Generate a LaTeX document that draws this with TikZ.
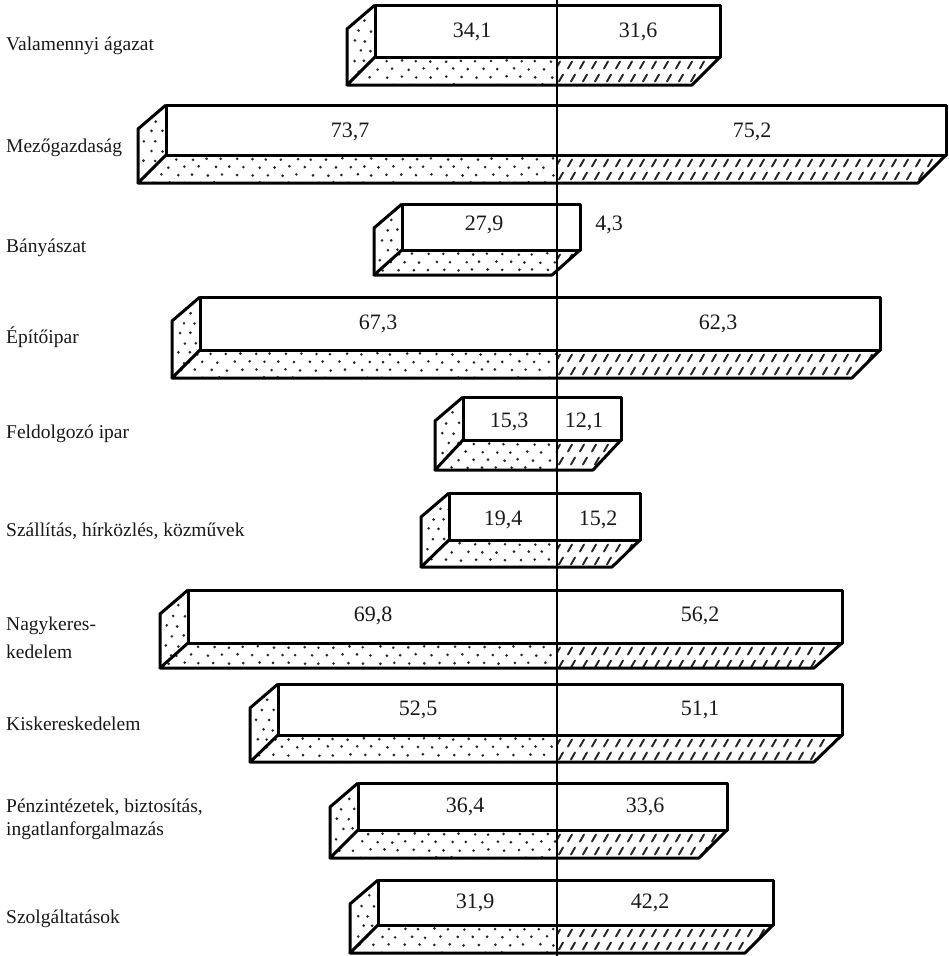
\documentclass[tikz,border=0pt]{standalone}
\usepackage{fontspec}
\setmainfont{Liberation Serif}
\tikzset{
  barline/.style={line width=3pt, line join=round},
  lab/.style={anchor=base west, inner sep=0pt, text=black!90, font=\fontsize{19.5}{23}\selectfont},
  val/.style={anchor=base, inner sep=0pt, text=black!90, font=\fontsize{22}{26}\selectfont},
  stip/.style={fill=black!85},
  hatchdash/.style={line width=1.9pt, line cap=round, black!85},
}
% dots: #1 x0, #2 x1, #3 y0, #4 y1, #5 column spacing, #6 row spacing
\newcommand\stipple[6]{%
  \pgfmathtruncatemacro\nr{((#4)-(#3))/(#6)}%
  \pgfmathtruncatemacro\nc{((#2)-(#1))/(#5)+1}%
  \foreach \j in {0,...,\nr}{%
    \foreach \i in {0,...,\nc}{%
      \fill[stip] ({(#1)+(#5)*\i+0.5*(#5)*mod(\j,2)+1.5*rand},{(#3)+4+(#6)*\j+0.8*rand}) circle (1.45);
    }%
  }%
}
% dashes: #1 x0, #2 x1, #3 y0, #4 y1
\newcommand\hatchfill[4]{%
  \pgfmathtruncatemacro\nr{((#4)-(#3))/14}%
  \pgfmathtruncatemacro\nc{((#2)-(#1))/12+1}%
  \foreach \j in {0,...,\nr}{%
    \foreach \i in {0,...,\nc}{%
      \draw[hatchdash] ({(#1)+12*\i+3*mod(\j,2)},{(#3)+13*\j+11.5}) -- ++(4,-7);
    }%
  }%
}
% #1 xl, #2 xr, #3 top, #4 bottom of front face, #5 lower edge
\newcommand\mkbar[5]{%
  \begin{scope}
    \clip (0,0) rectangle (557,956);
    \clip (#1,#4) -- (#2,#4) -- ({#2-28},#5) -- ({#1-28},#5) -- cycle;
    \stipple{#1-34}{557}{#4}{#5}{15}{8}
  \end{scope}
  \begin{scope}
    \clip (557,0) rectangle (948,956);
    \clip (#1,#4) -- (#2,#4) -- ({#2-28},#5) -- ({#1-28},#5) -- cycle;
    \hatchfill{544}{#2}{#4}{#5}
  \end{scope}
  \begin{scope}
    \clip (#1,#3) -- (#1,#4) -- ({#1-28},#5) -- ({#1-28},{#3+24}) -- cycle;
    \stipple{#1-21}{#1}{#3+12}{#5}{11}{10}
  \end{scope}
  \draw[barline] (#1,#3) rectangle (#2,#4);
  \draw[barline] (#1,#4) -- ({#1-28},#5) -- ({#2-28},#5) -- (#2,#4);
  \draw[barline] (#1,#3) -- ({#1-28},{#3+24}) -- ({#1-28},#5);
}
\begin{document}
\begin{tikzpicture}[x=1pt,y=-1pt]
\pgfmathsetseed{7}
\fill[white] (0,0) rectangle (948,956);
\useasboundingbox (0,0) rectangle (948,956);

\mkbar{375}{720}{5}{57}{85}
\mkbar{166}{946}{105}{155}{183}
\mkbar{402}{580}{204}{250}{275}
\mkbar{200}{880}{297}{350}{378}
\mkbar{463}{621}{397}{440}{470}
\mkbar{449}{640}{493}{540}{567}
\mkbar{188}{842}{590}{643}{668}
\mkbar{278}{842}{684}{735}{762}
\mkbar{358}{727}{783}{830}{858}
\mkbar{378}{773}{880}{925}{953}

\coordinate (ctop) at (557,0);
\coordinate (cbot) at (557,956);
\draw[line width=2.6pt] (ctop) -- (cbot);

% labels
\node[lab] (l1) at (6,50) {Valamennyi ágazat};
\node[lab] (l2) at (6,152) {Mezőgazdaság};
\node[lab] (l3) at (6,252) {Bányászat};
\node[lab] (l4) at (6,343) {Építőipar};
\node[lab] (l5) at (6,438) {Feldolgozó ipar};
\node[lab] (l6) at (6,536) {Szállítás, hírközlés, közművek};
\node[lab] (l7a) at (6,630) {Nagykeres-};
\node[lab] (l7b) at (6,658) {kedelem};
\node[lab] (l8) at (6,730) {Kiskereskedelem};
\node[lab] (l9a) at (6,812) {Pénzintézetek, biztosítás,};
\node[lab] (l9b) at (6,835) {ingatlanforgalmazás};
\node[lab] (l10) at (6,923) {Szolgáltatások};

% values
\node[val] (v1a) at (472,37) {34,1};
\node[val] (v1b) at (638,37) {31,6};
\node[val] (v2a) at (350,137) {73,7};
\node[val] (v2b) at (752,137) {75,2};
\node[val] (v3a) at (484,230) {27,9};
\node[val] (v3b) at (609,230) {4,3};
\node[val] (v4a) at (378,329) {67,3};
\node[val] (v4b) at (718,329) {62,3};
\node[val] (v5a) at (509,427) {15,3};
\node[val] (v5b) at (584,427) {12,1};
\node[val] (v6a) at (503,525) {19,4};
\node[val] (v6b) at (598,525) {15,2};
\node[val] (v7a) at (373,621) {69,8};
\node[val] (v7b) at (700,621) {56,2};
\node[val] (v8a) at (418,715) {52,5};
\node[val] (v8b) at (700,715) {51,1};
\node[val] (v9a) at (465,812) {36,4};
\node[val] (v9b) at (645,812) {33,6};
\node[val] (v10a) at (475,908) {31,9};
\node[val] (v10b) at (650,908) {42,2};
\end{tikzpicture}
\end{document}
